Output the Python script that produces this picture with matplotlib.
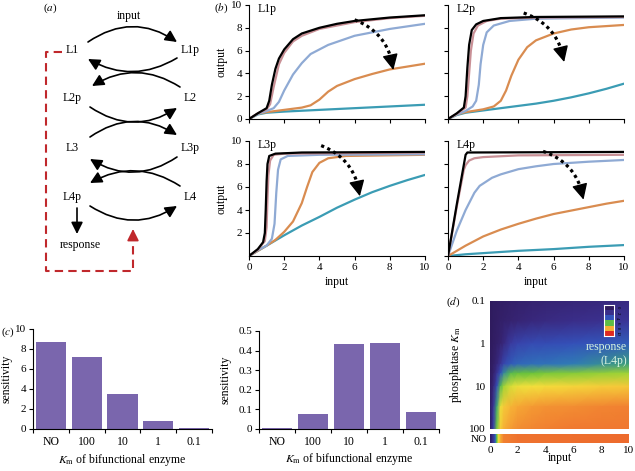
import matplotlib.pyplot as plt
import numpy as np
from matplotlib.patches import FancyArrowPatch
from matplotlib.colors import LinearSegmentedColormap

plt.rcParams['font.family'] = ['Liberation Serif', 'DejaVu Serif']
plt.rcParams['mathtext.fontset'] = 'stix'
plt.rcParams['font.size'] = 8
plt.rcParams['axes.linewidth'] = 0.8
for ax_name in ('xtick', 'ytick'):
    plt.rcParams[ax_name + '.major.size'] = 3
    plt.rcParams[ax_name + '.major.width'] = 0.8
    plt.rcParams[ax_name + '.major.pad'] = 2

W, H = 635, 471

# ---- panel (b) curves, (input, output) ----
l1p_teal = [(0, 0), (0.5, 0.4), (1, 0.55), (2, 0.65), (4, 0.8), (6, 0.95), (8, 1.1), (10, 1.25)]
l1p_orange = [(0, 0), (0.5, 0.45), (1, 0.6), (2, 0.8), (3, 1.0), (3.5, 1.2), (4, 1.7), (4.5, 2.4),
              (5, 2.9), (6, 3.5), (7, 3.95), (8, 4.35), (9, 4.6), (10, 4.85)]
l1p_blue = [(0, 0), (0.5, 0.45), (1.0, 0.7), (1.4, 0.95), (1.7, 1.5), (2.0, 2.5), (2.5, 3.9), (3, 4.9),
            (3.5, 5.7), (4.5, 6.5), (6, 7.3), (8, 7.9), (10, 8.35)]
l1p_pink = [(0, 0), (0.5, 0.5), (1.0, 0.85), (1.2, 1.3), (1.4, 2.8), (1.7, 4.8), (2, 5.8), (2.5, 6.8),
            (3, 7.3), (4, 7.9), (6, 8.5), (8, 8.85), (10, 9.05)]
l1p_black = [(0, 0), (0.5, 0.5), (1.0, 0.95), (1.15, 1.6), (1.3, 3.0), (1.5, 4.4), (1.7, 5.3), (2.0, 6.1),
             (2.5, 7.0), (3, 7.5), (4, 8.0), (5, 8.35), (6, 8.6), (8, 8.9), (10, 9.1)]

l2p_teal = [(0, 0), (0.5, 0.35), (1, 0.55), (2, 0.75), (3, 0.95), (4, 1.15), (5, 1.35), (6, 1.6),
            (7, 1.9), (8, 2.25), (9, 2.65), (10, 3.1)]
l2p_orange = [(0, 0), (0.5, 0.4), (1, 0.6), (2, 0.85), (2.6, 1.1), (3, 1.6), (3.3, 2.5), (3.6, 3.8),
              (4, 5.2), (4.5, 6.3), (5, 6.9), (6, 7.5), (7, 7.85), (8, 8.05), (10, 8.25)]
l2p_blue = [(0, 0), (0.5, 0.4), (1.0, 0.7), (1.4, 1.1), (1.6, 1.6), (1.75, 3.0), (1.85, 4.8), (2.0, 6.5),
            (2.2, 7.6), (2.6, 8.2), (3.5, 8.6), (5, 8.8), (10, 8.9)]
l2p_pink = [(0, 0), (0.5, 0.45), (1.0, 1.0), (1.1, 2.0), (1.2, 4.0), (1.3, 6.0), (1.45, 7.5), (1.7, 8.2),
            (2.2, 8.6), (3, 8.8), (5, 8.9), (10, 8.95)]
l2p_black = [(0, 0), (0.5, 0.5), (0.9, 1.0), (1.0, 2.0), (1.1, 4.5), (1.2, 6.5), (1.35, 7.8), (1.6, 8.3),
             (2, 8.6), (3, 8.85), (5, 8.95), (10, 9.0)]

l3p_teal = [(0, 0), (1, 0.9), (2, 1.8), (3, 2.65), (4, 3.4), (5, 4.2), (6, 4.9), (7, 5.55), (8, 6.1),
            (9, 6.6), (10, 7.05)]
l3p_orange = [(0, 0), (0.5, 0.45), (1, 0.9), (1.5, 1.4), (2, 2.1), (2.5, 3.0), (3, 4.6), (3.3, 6.0),
              (3.6, 7.3), (4, 8.1), (4.5, 8.5), (5.5, 8.7), (10, 8.8)]
l3p_blue = [(0, 0), (0.5, 0.5), (1.0, 0.9), (1.3, 1.5), (1.45, 2.8), (1.55, 5.5), (1.65, 7.5), (1.8, 8.4),
            (2.2, 8.7), (4, 8.8), (10, 8.85)]
l3p_pink = [(0, 0), (0.5, 0.55), (0.9, 1.3), (1.0, 2.5), (1.05, 5.0), (1.1, 7.0), (1.2, 8.3), (1.4, 8.8),
            (2, 8.9), (10, 9.0)]
l3p_black = [(0, 0), (0.5, 0.6), (0.8, 1.2), (0.9, 2.0), (0.95, 4.0), (1.0, 6.5), (1.05, 8.0), (1.15, 8.7),
             (1.5, 8.9), (3, 9.0), (10, 9.05)]

l4p_teal = [(0, 0), (1, 0.15), (2, 0.25), (4, 0.45), (6, 0.6), (8, 0.8), (10, 0.95)]
l4p_orange = [(0, 0), (1, 0.9), (2, 1.7), (3, 2.3), (4, 2.8), (5, 3.25), (6, 3.65), (7, 3.95), (8, 4.25),
              (9, 4.55), (10, 4.8)]
l4p_blue = [(0, 0), (0.5, 2.2), (1.0, 4.0), (1.5, 5.5), (1.8, 6.1), (2.5, 6.8), (3, 7.1), (4, 7.55),
            (5, 7.8), (6, 8.0), (8, 8.2), (10, 8.35)]
l4p_pink = [(0, 0), (0.5, 4.3), (0.9, 7.5), (1.0, 7.9), (1.2, 8.3), (1.5, 8.5), (2, 8.6), (4, 8.75), (10, 8.8)]
l4p_black = [(0, 0), (0.5, 4.5), (1.0, 8.8), (1.1, 9.0), (10, 9.05)]

# dotted arrows: (start, tip)
l1p_arrow = [(6.0, 8.7), (8.2, 4.3)]
l2p_arrow = [(4.3, 9.3), (6.6, 5.0)]
l3p_arrow = [(4.1, 9.6), (6.3, 5.2)]
l4p_arrow = [(5.4, 9.1), (7.7, 4.9)]

curve_colors = ['#3b9cb4', '#d98c50', '#8faad4', '#c99096', 'black']

# ---- panel (c) ----
bar_cats = ['NO', '100', '10', '1', '0.1']
sens_left = [8.7, 7.25, 3.55, 0.8, 0.1]
sens_right = [0.003, 0.078, 0.435, 0.44, 0.087]

# ---- panel (d) heatmap, response ----
hm_input = [0, 0.25, 0.5, 0.75, 1, 1.5, 2, 3, 4, 6, 8, 10]
hm_km = [0.1, 0.3, 1, 3, 5, 10, 30, 100]
hm_km01 = [0, 0.2, 0.3, 0.4, 0.5, 0.7, 0.8, 1.0, 1.1, 1.3, 1.5, 1.7]
hm_km03 = [0, 0.2, 0.4, 0.6, 0.8, 1.0, 1.2, 1.5, 1.7, 2.0, 2.2, 2.5]
hm_km1 = [0, 0.3, 0.6, 1.0, 1.6, 2.8, 3.3, 3.6, 3.7, 3.9, 4.1, 4.3]
hm_km3 = [0, 0.6, 1.4, 2.4, 3.4, 4.2, 4.5, 4.7, 4.8, 5.0, 5.2, 5.4]
hm_km5 = [0, 0.9, 2.4, 4.0, 5.2, 5.9, 6.1, 6.2, 6.3, 6.4, 6.5, 6.6]
hm_km10 = [0, 1.5, 3.8, 5.8, 6.6, 7.0, 7.2, 7.3, 7.35, 7.45, 7.55, 7.65]
hm_km30 = [0, 2.5, 5.5, 7.2, 7.6, 7.9, 8.1, 8.3, 8.4, 8.5, 8.6, 8.7]
hm_km100 = [0, 3.2, 6.3, 7.6, 8.0, 8.3, 8.5, 8.6, 8.7, 8.8, 8.8, 8.8]
no_input = [0, 0.2, 0.4, 0.5, 0.6, 0.8, 1, 2, 10]
no_resp = [0, 2, 4.5, 6, 7.2, 8.2, 8.7, 8.9, 9.0]
legend_levels = [0, 2, 4, 6, 8, 10]

fig = plt.figure(figsize=(W / 100, H / 100), dpi=100)


def px_axes(l, t, r, b):
    return fig.add_axes([l / W, 1 - b / H, (r - l) / W, (b - t) / H])


def dotted_arrow(ax, start, tip, bend=0.3, t_head=0.8):
    # quadratic curve bowed to the upper right, in pixel-like units
    sx, sy = 17.6, 11.4
    p0 = np.array([start[0] * sx, start[1] * sy])
    p2 = np.array([tip[0] * sx, tip[1] * sy])
    d = p2 - p0
    c = (p0 + p2) / 2 + bend * np.array([-d[1], d[0]])
    t = np.linspace(0, t_head, 40)[:, None]
    pts = (1 - t) ** 2 * p0 + 2 * (1 - t) * t * c + t ** 2 * p2
    ax.plot(pts[:, 0] / sx, pts[:, 1] / sy, color='black', lw=2.3, linestyle=(0, (1, 1.1)),
            dash_capstyle='butt')
    ax.annotate('', xy=tip, xytext=(pts[-1, 0] / sx, pts[-1, 1] / sy),
                arrowprops=dict(arrowstyle='-|>,head_length=0.6,head_width=0.3', mutation_scale=16,
                                color='black', lw=1, shrinkA=0, shrinkB=0))


# overlay for the diagram and panel letters
ax0 = fig.add_axes([0, 0, 1, 1])
ax0.set_xlim(0, W)
ax0.set_ylim(H, 0)
ax0.axis('off')

for lab, (x, y) in {'a': (50, 8), 'b': (221, 8), 'c': (8, 332), 'd': (453, 302)}.items():
    ax0.text(x, y, '($\\mathit{%s}$)' % lab, ha='center', va='center', fontsize=8)

# ---- panel (a) ----
nodes = {'L1': (72, 50), 'L1p': (190, 50), 'L2p': (72, 98), 'L2': (190, 98),
         'L3': (72, 148), 'L3p': (190, 148), 'L4p': (72, 197), 'L4': (190, 197)}
for name, (x, y) in nodes.items():
    ax0.text(x, y, name, ha='center', va='center', fontsize=8.5)
ax0.text(129, 16, 'input', ha='center', va='center', fontsize=8.5)
ax0.text(80, 245, 'response', ha='center', va='center', fontsize=8.5)

links = [((88, 42), (177, 42), -0.34),
         ((177, 58), (88, 59), -0.29), ((180, 87), (92, 86), 0.31),
         ((90, 107), (177, 108), 0.33), ((90, 137), (177, 135), -0.33),
         ((177, 157), (90, 159), -0.32), ((180, 186), (90, 183), 0.30),
         ((90, 206), (177, 206), 0.32)]
for p0, p1, rad in links:
    ax0.add_patch(FancyArrowPatch(p0, p1, connectionstyle='arc3,rad=%s' % rad,
                                  arrowstyle='-|>,head_length=0.5,head_width=0.25',
                                  mutation_scale=14, lw=1.2, color='black', shrinkA=0, shrinkB=0))
ax0.add_patch(FancyArrowPatch((77, 208), (77, 234), arrowstyle='-|>,head_length=0.5,head_width=0.25',
                              mutation_scale=14, lw=1.2, color='black', shrinkA=0, shrinkB=0))
red = '#c0282c'
ax0.plot([62, 46, 46, 133, 133], [52, 52, 271, 271, 238], color=red, lw=1.5, dashes=(4, 2.5))
ax0.add_patch(FancyArrowPatch((133, 240), (133, 229), arrowstyle='-|>,head_length=0.5,head_width=0.25',
                              mutation_scale=14, lw=1.2, color=red, shrinkA=0, shrinkB=0))

# ---- panel (b) ----
panels = [('L1p', (249, 5, 425, 119), [l1p_teal, l1p_orange, l1p_blue, l1p_pink, l1p_black], l1p_arrow),
          ('L2p', (448, 5, 624, 119), [l2p_teal, l2p_orange, l2p_blue, l2p_pink, l2p_black], l2p_arrow),
          ('L3p', (249, 141, 425, 256), [l3p_teal, l3p_orange, l3p_blue, l3p_pink, l3p_black], l3p_arrow),
          ('L4p', (448, 141, 624, 256), [l4p_teal, l4p_orange, l4p_blue, l4p_pink, l4p_black], l4p_arrow)]
for i, (name, box, curves, arrow) in enumerate(panels):
    ax = px_axes(*box)
    for pts, col in zip(curves, curve_colors):
        xs, ys = zip(*pts)
        ax.plot(xs, ys, color=col, lw=1.6, solid_capstyle='round', solid_joinstyle='round')
    dotted_arrow(ax, arrow[0], arrow[1])
    ax.set_xlim(0, 10)
    ax.set_ylim(0, 10)
    ax.set_xticks(range(0, 11, 2))
    ax.set_yticks(range(0, 11, 2))
    ax.spines[['top', 'right']].set_visible(False)
    ax.text(0.05, 0.965, name, transform=ax.transAxes, ha='left', va='center', fontsize=8.5)
    if i < 2:
        ax.set_xticklabels([])
    else:
        ax.set_xlabel('input', fontsize=8.5)
        ax.xaxis.set_label_coords(0.5, -0.17)
    if i % 2 == 1:
        ax.set_yticklabels([])
    else:
        ax.set_ylabel('output', fontsize=8.5)
        ax.yaxis.set_label_coords(-0.125, 0.5)
    if i == 2:
        ax.set_yticks(range(2, 11, 2))

# ---- panel (c) ----
bar_color = '#7a66ad'
for box, vals, top, ticks, lab_x in [((33, 329, 212, 429), sens_left, 10, np.arange(0, 11, 2), -0.115),
                                     ((259, 331, 439, 429), sens_right, 0.5, np.arange(0, 0.51, 0.1), -0.15)]:
    ax = px_axes(*box)
    ax.bar(range(len(bar_cats)), vals, width=0.84, color=bar_color)
    ax.set_xlim(-0.5, 4.5)
    ax.set_ylim(0, top)
    ax.set_yticks(ticks)
    ax.set_yticklabels(['0'] + ['%g' % t for t in ticks[1:]])
    ax.set_xticks(np.arange(-0.5, 5, 1))
    ax.set_xticklabels([])
    ax.set_xticks(range(len(bar_cats)), minor=True)
    ax.set_xticklabels(bar_cats, minor=True, fontsize=8.5)
    ax.tick_params(axis='x', which='minor', length=0, pad=5)
    ax.spines[['top', 'right']].set_visible(False)
    ax.set_ylabel('sensitivity', fontsize=8.5)
    ax.yaxis.set_label_coords(lab_x, 0.5)
    ax.set_xlabel('$K_\\mathrm{m}$ of bifunctional enzyme', fontsize=8.5)
    ax.xaxis.set_label_coords(0.5, -0.225)

# ---- panel (d) ----
hm_cmap = LinearSegmentedColormap.from_list('resp', [
    (0.0, '#2f1b5e'), (0.1, '#362370'), (0.2, '#3a2e8a'), (0.3, '#3a3ea6'), (0.4, '#3353bb'),
    (0.5, '#2f7ab8'), (0.56, '#44b060'), (0.62, '#6cc43a'), (0.68, '#c0dc34'), (0.73, '#f4e03c'),
    (0.81, '#f6a834'), (0.88, '#f07a30'), (1.0, '#e02a20')])

axh = px_axes(490, 301, 629, 429)
grid = np.array([hm_km01, hm_km03, hm_km1, hm_km3, hm_km5, hm_km10, hm_km30, hm_km100])
X, Y = np.meshgrid(hm_input, hm_km)
axh.pcolormesh(X, Y, grid, cmap=hm_cmap, vmin=0, vmax=10, shading='gouraud')
axh.set_yscale('log')
axh.set_xlim(0, 10)
axh.set_ylim(100, 0.1)
axh.set_yticks([0.1, 1, 10, 100])
axh.set_yticklabels(['0.1', '1', '10', '100'])
axh.set_xticks([])
axh.tick_params(axis='y', which='both', length=0, pad=3)
axh.minorticks_off()
for s in axh.spines.values():
    s.set_visible(False)
axh.set_ylabel('phosphatase $K_\\mathrm{m}$', fontsize=8.5)
axh.yaxis.set_label_coords(-0.187, 0.5)
axh.text(0.985, 0.585, 'response\n(L4p)', transform=axh.transAxes, ha='right', va='center',
         color='#d6f3df', fontsize=8.5, linespacing=1.2)

axn = px_axes(490, 434, 629, 443)
NX, NY = np.meshgrid(no_input, [0, 1])
axn.pcolormesh(NX, NY, np.array([no_resp, no_resp]), cmap=hm_cmap, vmin=0, vmax=10, shading='gouraud')
axn.set_xlim(0, 10)
axn.set_ylim(0, 1)
axn.set_yticks([0.5])
axn.set_yticklabels(['NO'])
axn.set_xticks(range(0, 11, 2))
axn.tick_params(length=0, pad=2)
for s in axn.spines.values():
    s.set_visible(False)
axn.set_xlabel('input', fontsize=8.5)
axn.xaxis.set_label_coords(0.5, -1.0)

axl = px_axes(604, 305, 614, 336)
axl.imshow(np.array(legend_levels).reshape(-1, 1), cmap=hm_cmap, vmin=0, vmax=10, aspect='auto')
axl.set_xticks([])
axl.set_yticks(range(len(legend_levels)))
axl.set_yticklabels([str(v) for v in legend_levels], fontsize=3.5, rotation=-90, va='center')
axl.yaxis.tick_right()
axl.tick_params(length=0, pad=1)
for s in axl.spines.values():
    s.set_color('white')

fig.savefig('out.png', dpi=100)
